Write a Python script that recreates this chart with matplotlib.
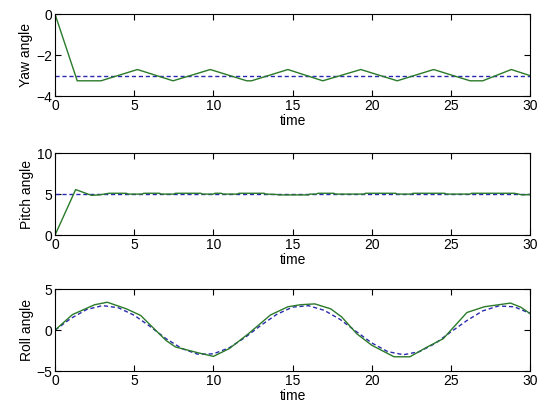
import matplotlib.pyplot as plt

plt.rcParams['font.family'] = ['Liberation Sans', 'DejaVu Sans']
plt.rcParams['font.size'] = 10

# yaw response (green) and reference (blue dashed)
yaw_t = [0, 1.4, 2.9, 5.2, 7.45, 9.8, 12.1, 12.4, 14.7, 16.9, 19.3, 21.6, 23.9, 26.2, 27.0, 28.8, 30]
yaw_v = [0, -3.25, -3.25, -2.7, -3.25, -2.7, -3.25, -3.25, -2.7, -3.25, -2.7, -3.25, -2.7, -3.25, -3.25, -2.7, -3.0]
yaw_ref_t = [0, 30]
yaw_ref_v = [-3, -3]

# pitch
pitch_t = [0, 1.3, 2.3, 2.8, 3.4, 4.5, 4.6, 5.5, 5.6, 6.6, 6.7, 7.5, 7.6, 9.2, 9.3, 10.0, 10.1, 10.5, 10.6,
           11.5, 11.6, 13.2, 13.3, 14.0, 14.1, 16.0, 16.1, 16.5, 16.6, 17.6, 17.7, 19.5, 19.6, 21.5, 21.6,
           22.5, 22.6, 24.6, 24.7, 26.2, 26.3, 29.0, 29.5, 30]
pitch_v = [0, 5.55, 4.85, 4.9, 5.1, 5.1, 5.0, 5.0, 5.1, 5.1, 5.0, 5.0, 5.1, 5.1, 5.0, 5.0, 5.1, 5.1, 5.0,
           5.0, 5.1, 5.1, 5.0, 4.95, 4.9, 4.9, 5.0, 5.0, 5.1, 5.1, 5.0, 5.0, 5.1, 5.1, 5.0,
           5.0, 5.1, 5.1, 5.0, 5.0, 5.1, 5.1, 4.9, 4.95]
pitch_ref_t = [0, 30]
pitch_ref_v = [5, 5]

# roll
roll_t = [0, 1.1, 2.5, 3.3, 4.5, 5.4, 7.0, 7.6, 9.0, 10.0, 11.0, 12.2, 13.6, 14.7, 15.5, 16.4,
          17.4, 18.1, 19.05, 20.0, 21.4, 22.4, 23.5, 24.5, 26.0, 27.1, 28.75, 29.4, 30]
roll_v = [0, 1.9, 3.1, 3.4, 2.6, 1.8, -1.25, -2.05, -2.75, -3.2, -2.25, -0.45, 1.85, 2.85, 3.1, 3.2,
          2.6, 1.6, -0.45, -1.85, -3.25, -3.25, -2.05, -1.05, 2.15, 2.85, 3.3, 2.8, 2.0]
roll_ref_t = list(range(31))
roll_ref_v = [0, 1.43, 2.52, 2.99, 2.73, 1.81, 0.45, -1.03, -2.24, -2.93, -2.89, -2.15, -0.89, 0.59,
              1.93, 2.81, 2.98, 2.41, 1.30, -0.15, -1.57, -2.62, -3.0, -2.62, -1.62, -0.2, 1.17,
              2.35, 2.95, 2.84, 2.03]

green = '#2a7a2a'
blue = '#2a2ab0'

fig = plt.figure(figsize=(5.45, 4.11), dpi=100)
left, width, height = 0.101, 0.872, 0.1995
bottoms = [0.766, 0.428, 0.097]

panels = [
    (yaw_t, yaw_v, yaw_ref_t, yaw_ref_v, 'Yaw angle', (-4, 0), [-4, -2, 0]),
    (pitch_t, pitch_v, pitch_ref_t, pitch_ref_v, 'Pitch angle', (0, 10), [0, 5, 10]),
    (roll_t, roll_v, roll_ref_t, roll_ref_v, 'Roll angle', (-5, 5), [-5, 0, 5]),
]

for b, (t, v, rt, rv, lab, ylim, yt) in zip(bottoms, panels):
    ax = fig.add_axes([left, b, width, height])
    ax.plot(rt, rv, '--', color=blue, lw=1.0, dashes=(3, 2))
    ax.plot(t, v, '-', color=green, lw=1.0)
    ax.set_xlim(0, 30)
    ax.set_ylim(*ylim)
    ax.set_yticks(yt)
    ax.set_xticks([0, 5, 10, 15, 20, 25, 30])
    ax.set_xlabel('time', labelpad=1)
    ax.set_ylabel(lab, labelpad=2)
    ax.tick_params(direction='in', top=True, right=True, length=4, width=0.8, pad=2)
    for s in ax.spines.values():
        s.set_linewidth(0.8)

fig.savefig('out.png', dpi=100)
